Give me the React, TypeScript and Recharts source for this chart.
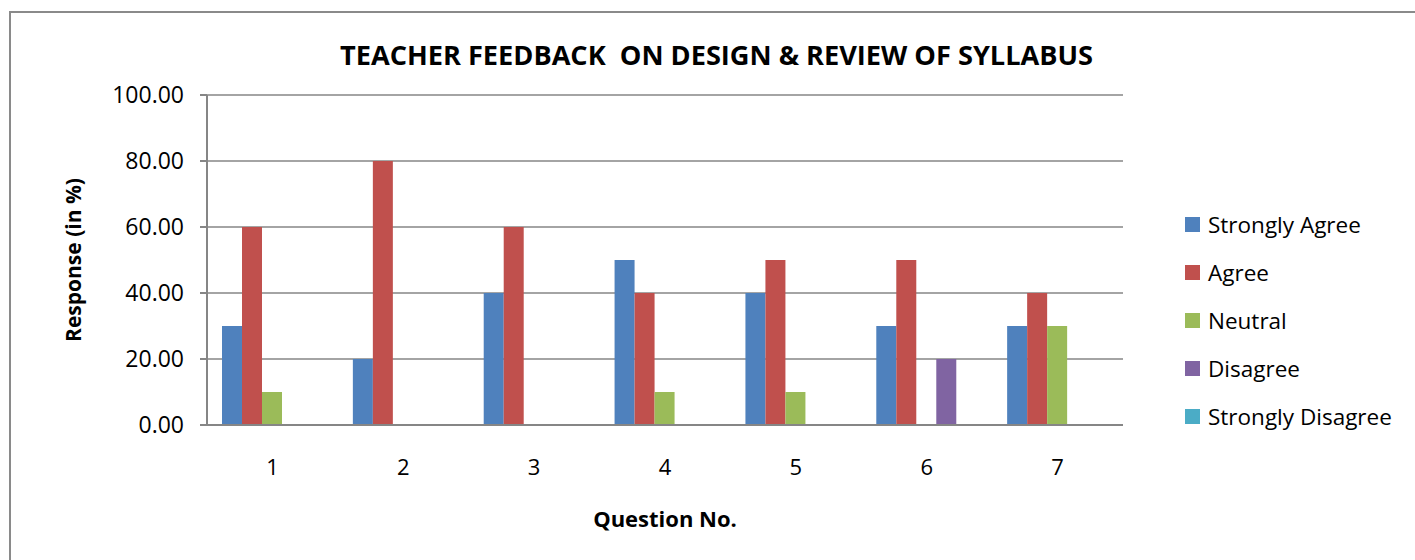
import { BarChart, Bar, XAxis, YAxis, CartesianGrid } from 'recharts'

const questions = ['1', '2', '3', '4', '5', '6', '7']
const stronglyAgree = [30, 20, 40, 50, 40, 30, 30]
const agree = [60, 80, 60, 40, 50, 50, 40]
const neutral = [10, 0, 0, 10, 10, 0, 30]
const disagree = [0, 0, 0, 0, 0, 20, 0]
const stronglyDisagree = [0, 0, 0, 0, 0, 0, 0]
const yTicks = [0, 20, 40, 60, 80, 100]

const SERIES = [
  { key: 'sa', name: 'Strongly Agree', color: '#4F81BD', values: stronglyAgree },
  { key: 'a', name: 'Agree', color: '#C0504D', values: agree },
  { key: 'n', name: 'Neutral', color: '#9BBB59', values: neutral },
  { key: 'd', name: 'Disagree', color: '#8064A2', values: disagree },
  { key: 'sd', name: 'Strongly Disagree', color: '#4BACC6', values: stronglyDisagree },
]

const data = questions.map((q, i) => {
  const row: Record<string, string | number> = { q }
  for (const s of SERIES) row[s.key] = s.values[i]
  return row
})

const FONT = "'Open Sans', 'Noto Sans', sans-serif"
const AXIS = '#868686'

export default function App() {
  return (
    <div
      style={{
        position: 'absolute',
        left: 0,
        top: 0,
        width: 1415,
        height: 560,
        background: '#fff',
        fontFamily: FONT,
        overflow: 'hidden',
      }}
    >
      <div
        style={{
          position: 'absolute',
          left: 9,
          top: 11,
          width: 1500,
          height: 700,
          borderLeft: '2px solid #8a8a8a',
          borderTop: '2px solid #8a8a8a',
        }}
      />
      <svg width={1415} height={90} style={{ position: 'absolute', left: 0, top: 0 }}>
        <text
          x={340}
          y={65}
          fontFamily={FONT}
          fontWeight={700}
          fontSize={26}
          fill='#000'
          textLength={753}
          lengthAdjust='spacingAndGlyphs'
          style={{ whiteSpace: 'pre' }}
        >
          {'TEACHER FEEDBACK  ON DESIGN & REVIEW OF SYLLABUS'}
        </text>
      </svg>
      <div style={{ position: 'absolute', left: 0, top: 0 }}>
        <BarChart
          width={1415}
          height={560}
          data={data}
          barSize={20}
          barGap={0}
          margin={{ top: 95, right: 292, bottom: 25, left: 57 }}
        >
          <CartesianGrid vertical={false} stroke={AXIS} strokeWidth={1.5} />
          <XAxis
            dataKey='q'
            height={110}
            tickLine={false}
            tickSize={0}
            tickMargin={34}
            axisLine={{ stroke: AXIS, strokeWidth: 2 }}
            tick={{ fontSize: 22, fill: '#000', fontFamily: FONT }}
            label={{
              value: 'Question No.',
              position: 'insideBottom',
              offset: 8,
              style: { fontSize: 22, fontWeight: 700, fill: '#000', fontFamily: FONT },
            }}
          />
          <YAxis
            width={150}
            domain={[0, 100]}
            ticks={yTicks}
            tickFormatter={(v: number) => v.toFixed(2)}
            tickSize={7}
            tickMargin={16}
            tickLine={{ stroke: AXIS, strokeWidth: 2 }}
            axisLine={{ stroke: AXIS, strokeWidth: 2 }}
            tick={{ fontSize: 23, fill: '#000', fontFamily: FONT }}
            label={{
              content: ({ viewBox }: any) => {
                const cx = viewBox.x + 16
                const cy = viewBox.y + viewBox.height / 2
                return (
                  <text
                    x={cx}
                    y={cy}
                    transform={`rotate(-90 ${cx} ${cy})`}
                    textAnchor='middle'
                    dominantBaseline='central'
                    fontSize={21}
                    fontWeight={700}
                    fontFamily={FONT}
                    fill='#000'
                  >
                    Response (in %)
                  </text>
                )
              },
            }}
          />
          {SERIES.map((s) => (
            <Bar key={s.key} dataKey={s.key} name={s.name} fill={s.color} isAnimationActive={false} />
          ))}
        </BarChart>
      </div>
      <div style={{ position: 'absolute', left: 1185, top: 200 }}>
        {SERIES.map((s) => (
          <div
            key={s.key}
            style={{ display: 'flex', alignItems: 'center', height: 48, fontSize: 22.5, color: '#000' }}
          >
            <span style={{ width: 15, height: 15, background: s.color, marginRight: 8, display: 'inline-block' }} />
            {s.name}
          </div>
        ))}
      </div>
    </div>
  )
}
